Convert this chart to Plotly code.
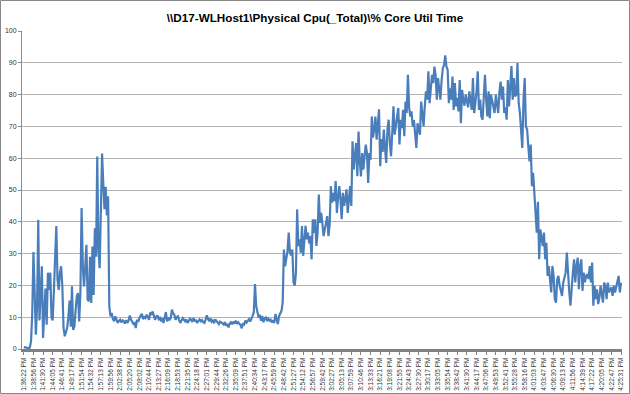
import plotly.graph_objects as go

title_text = "\\\\D17-WLHost1\\Physical Cpu(_Total)\\% Core Util Time"

tick_labels = [
    "1:36:22 PM", "1:38:56 PM", "1:41:30 PM", "1:44:05 PM", "1:46:41 PM", "1:49:17 PM",
    "1:51:54 PM", "1:54:32 PM", "1:57:13 PM", "1:59:56 PM", "2:02:38 PM", "2:05:20 PM",
    "2:08:02 PM", "2:10:44 PM", "2:13:27 PM", "2:16:09 PM", "2:18:53 PM", "2:21:35 PM",
    "2:24:18 PM", "2:27:01 PM", "2:29:44 PM", "2:32:26 PM", "2:35:09 PM", "2:37:51 PM",
    "2:40:34 PM", "2:43:17 PM", "2:45:59 PM", "2:48:42 PM", "2:51:27 PM", "2:54:12 PM",
    "2:56:57 PM", "2:59:42 PM", "3:02:27 PM", "3:05:13 PM", "3:07:59 PM", "3:10:46 PM",
    "3:13:33 PM", "3:16:21 PM", "3:19:08 PM", "3:21:55 PM", "3:24:43 PM", "3:27:30 PM",
    "3:30:17 PM", "3:33:05 PM", "3:35:54 PM", "3:38:42 PM", "3:41:30 PM", "3:44:17 PM",
    "3:47:06 PM", "3:49:53 PM", "3:52:41 PM", "3:55:28 PM", "3:58:16 PM", "4:01:03 PM",
    "4:03:47 PM", "4:06:30 PM", "4:09:13 PM", "4:11:56 PM", "4:14:39 PM", "4:17:22 PM",
    "4:20:05 PM", "4:22:47 PM", "4:25:31 PM",
]

# % Core Util Time samples
cpu_start = [
    0.6, 0.5, 0.4, 0.3, 0.3, 0.4, 2.5, 11, 30.5, 18, 4.5, 13, 40.6, 9, 16.5, 26, 3.5, 11, 19, 7.6,
    24, 18.6, 24, 10, 9, 18.6, 28, 38.7, 21.8, 18.6, 24, 26, 19.7, 6.6, 4, 5, 6.6, 10, 15.2, 7,
    19.7, 6, 7, 12, 16.5, 17.6, 8.7, 17.6, 44.3, 26, 19.7, 26, 32.8, 15.5, 15, 29, 14.5, 32.2, 17, 38,
    29, 60.5, 31, 25.4, 47, 61.5, 52, 44, 51, 42, 48, 13.4,
]
cpu_idle = [
    10.3, 11.3, 9.5, 8.7, 10.3, 9.0, 8.2, 8.8, 9.2, 8.4, 9.0, 8.7, 8.0, 9.1, 8.2, 8.9, 10.5, 9.3,
    8.7, 7.9, 8.3, 6.6, 9.2, 8.5, 9.8, 10.3, 11.1, 9.4, 10.0, 9.7, 10.8, 10.1, 9.2, 11.5, 10.7,
    11.8, 10.3, 9.2, 10.1, 10.6, 9.4, 9.8, 8.7, 9.7, 8.2, 9.5, 11.6, 8.7, 9.9, 9.1, 9.7, 12.4,
    11.2, 10.8, 9.2, 10.0, 10.3, 9.1, 8.2, 9.0, 9.7, 9.2, 8.7, 9.3, 8.2, 8.8, 9.5, 9.2, 8.5, 9.7,
    8.9, 9.0, 8.2, 8.8, 9.3, 8.7, 9.1, 8.4, 8.2, 9.3, 10.6, 9.4, 8.7, 9.6, 8.6, 9.0, 8.1, 9.3,
    8.9, 8.3, 7.8, 8.6, 8.4, 8.1, 7.7, 8.5, 7.3, 7.9, 6.8, 8.0, 8.4, 7.8, 8.6, 8.0, 8.9, 7.9,
    8.4, 8.0, 7.5, 6.5, 8.1, 7.7, 8.9, 8.3, 9.1, 9.4, 8.6, 9.9, 10.4, 11.5, 20.4, 13.5, 11.0,
    9.9, 10.8, 8.9, 10.4, 8.4, 9.6, 9.9, 8.8, 9.5, 8.9, 9.2, 8.4, 9.0, 8.2, 11.0, 9.3, 7.8,
    10.4, 11.0, 12.0, 14.6,
]
cpu_ramp = [
    31.3, 26.0, 28.5, 30.8, 36.6, 30.3, 29.5, 31.3, 20.9, 19.9, 24, 43.9, 32.4, 34.5, 30.3, 38.7,
    29.3, 33, 38.7, 34.5, 36.6, 33.2, 35.5, 28.2, 40.8, 36.5, 40.8, 32.4, 36.6, 48.6, 39.7, 42.8,
    38.5, 35.5, 37.7, 39.7, 41.8, 35.5, 39.0, 51.2, 46.0, 49.1, 46.5, 52.8, 42.8, 47.5, 51.2, 47.0,
    40.8, 49.1, 45.0, 47.0, 50.2, 42.8, 47.5, 51.2, 45.0, 65.3, 56.4, 60.0, 64.8, 54.3, 68.4, 59.0,
    54.3, 61.6, 56.4, 60.5, 64.3, 61.6, 52.2, 61.6, 59.5, 73.1, 66.5, 69.0, 73.1, 65.8, 70.0, 75.4,
    57.5, 66.0, 62.0, 69.0, 63.0, 58.5, 69.0, 72.1, 64.8, 60.6, 68.0, 76.3, 67.4, 70.0, 73.0, 75.8,
    64.3, 72.1, 69.5, 75.2, 66.9, 77.8, 74.2, 86.2, 76.0, 73.1, 74.7, 70.0, 72.0, 67.4, 63.2, 71.0,
    69.5, 67.4,
]
cpu_peak = [
    77.8, 73.0, 70.0, 76.3, 81.0, 78.4, 87.3, 77.3, 82.0, 86.2, 83.6, 88.8, 86.2, 78.4, 85.2, 81.0,
    78.4, 84.6, 88.3, 89.3, 92.3, 88.8, 87.8, 77.3, 82.0, 78.4, 85.7, 75.2, 83.6, 76.3, 79.0, 74.7,
    84.6, 71.0, 81.5, 78.4, 76.5, 80.0, 78.4, 76.0, 81.0, 77.3, 75.2, 85.2, 74.2, 77.3, 81.0, 87.3,
    75.2, 78.4, 73.1, 72.1, 81.0, 86.2, 78.4, 73.1, 81.0, 72.6, 80.0, 78.4, 76.5, 74.2, 79.9, 77.3,
    74.2, 80.9, 84.1, 78.4, 82.5, 74.2, 76.0, 72.1, 84.6, 76.3, 84.6, 89.0, 78.4, 85.2, 79.4, 80.0,
    89.9, 77.3, 74.2, 69.0, 63.2, 78.4, 85.2, 70.0, 69.0, 63.7,
]
cpu_drop = [
    59.0, 64.3, 51.2, 55.4, 49.1, 40.8, 36.6, 46.3, 28.2, 37.6, 34.0, 32.4, 36.6, 28.2, 33.4, 23.0,
    26.1, 20.9, 17.8, 26.1, 23.0, 15.7, 14.6, 21.9, 23.0, 20.0, 17.8, 16.7, 20.9, 23.0, 24.0, 30.3,
    22.0, 18.0, 13.6, 20.0, 24.0, 28.2, 20.9, 26.1, 28.7, 18.8, 26.1, 28.2, 18.3, 24.0, 21.0, 23.0,
    23.5, 22.0, 26.1, 20.9, 27.2, 13.6, 19.9, 15.7, 18.8, 14.1, 16.0, 19.9, 16.7, 14.6, 20.9, 19.9,
    15.7, 20.9, 17.8, 18.5, 19.4, 16.7, 19.9, 17.8, 19.4, 20.9, 23.0, 17.8, 20.9,
]

cpu = cpu_start + cpu_idle + cpu_ramp + cpu_peak + cpu_drop
n = len(cpu)
x_idx = list(range(n))
step = (n - 1) / (len(tick_labels) - 1)
tick_pos = [k * step for k in range(len(tick_labels))]

fig = go.Figure()
fig.add_trace(go.Scatter(
    x=x_idx, y=cpu, mode="lines",
    line=dict(color="#4A7EBB", width=2.2),
    hoverinfo="y", showlegend=False,
))

W, H = 630, 394
ml, mr, mt, mb = 22, 8, 31, 45
pw, ph = W - ml - mr, H - mt - mb

fig.update_layout(
    width=W, height=H,
    margin=dict(l=ml, r=mr, t=mt, b=mb, autoexpand=False),
    paper_bgcolor="white", plot_bgcolor="white",
    font=dict(family="Liberation Sans, Arial, sans-serif", color="#404040"),
    title=dict(
        text="<b>" + title_text + "</b>",
        x=0.5, xanchor="center", xref="container",
        y=1 - 18 / H, yanchor="middle", yref="container",
        font=dict(family="Liberation Sans, Arial", size=11.7, color="#000000"),
    ),
    xaxis=dict(
        range=[-1.5, n - 0.2], automargin=False,
        tickmode="array", tickvals=tick_pos, ticktext=tick_labels,
        tickangle=-90, tickfont=dict(size=6.5, color="#333333"),
        showgrid=False, zeroline=False,
        showline=True, linecolor="#808080", linewidth=3,
        ticks="outside", ticklen=3, tickcolor="#808080", tickwidth=1,
    ),
    yaxis=dict(
        range=[0, 100], automargin=False, tickmode="array", tickvals=list(range(0, 101, 10)),
        tickfont=dict(size=7, color="#333333"),
        showgrid=True, gridcolor="#B3B3B3", gridwidth=1,
        zeroline=False, showline=True, linecolor="#8C8C8C", linewidth=1,
        ticks="outside", ticklen=3, tickcolor="#8C8C8C",
    ),
    shapes=[dict(
        type="rect", xref="paper", yref="paper",
        x0=-(ml - 0.5) / pw, x1=1 + (mr - 0.5) / pw,
        y0=-(mb - 0.5) / ph, y1=1 + (mt - 0.5) / ph,
        line=dict(color="#888888", width=1), fillcolor="rgba(0,0,0,0)", layer="below",
    )],
)

fig.write_html(
    "out.html",
    config={"displayModeBar": False},
    post_script="document.body.style.margin='0px';document.body.style.overflow='hidden';",
)
